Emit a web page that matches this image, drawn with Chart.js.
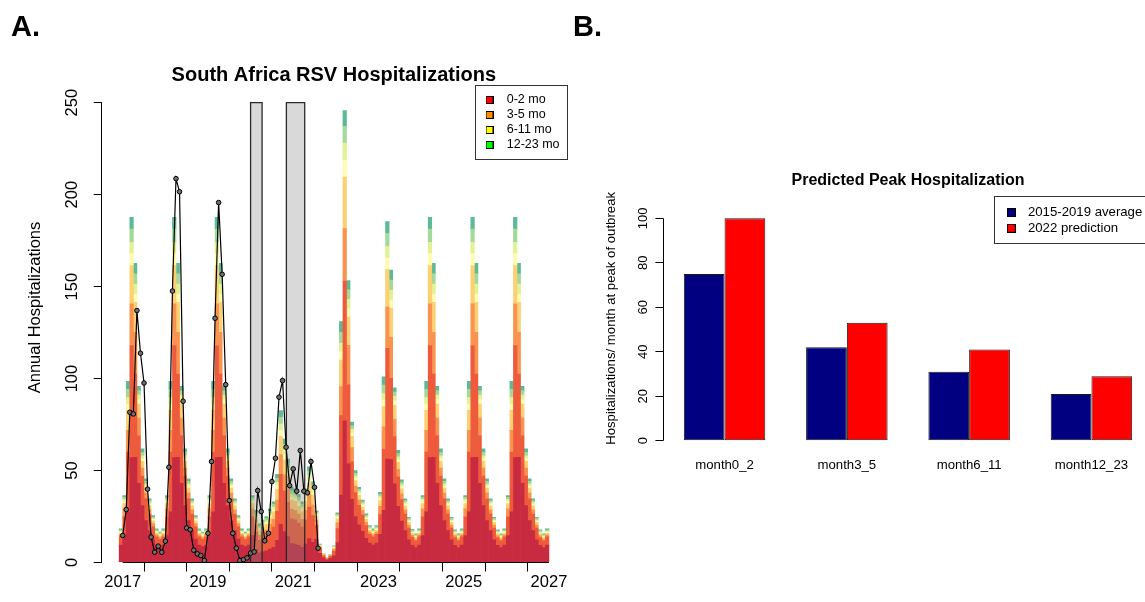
<!DOCTYPE html>
<html>
<head>
<meta charset="utf-8">
<script src="https://cdn.jsdelivr.net/npm/chart.js@4.4.1/dist/chart.umd.min.js"></script>
<style>
html,body{margin:0;padding:0;width:1145px;height:602px;overflow:hidden;background:#fff;}
#wa{position:absolute;left:0;top:0;width:580px;height:602px;}
#wb{position:absolute;left:580px;top:0;width:600px;height:602px;}
.tag{position:absolute;z-index:5;font:bold 29px "Liberation Sans",Arial,Helvetica,sans-serif;line-height:29px;color:#000;}
</style>
</head>
<body>
<div id="wa"><canvas id="ca"></canvas></div>
<div id="wb"><canvas id="cb"></canvas></div>
<div class="tag" style="left:11px;top:12px">A.</div>
<div class="tag" style="left:573px;top:12px">B.</div>
<script>
// ---------------- Panel A data ----------------
// modelled monthly hospitalizations, Dec 2016 .. Dec 2026 (121 months), stacked age bands
const firstModelYear = 2016, firstModelMonth = 12;
const age0to2a = [9.5,
  14.6, 27.6, 57.0, 57.2, 43.1, 30.9, 22.8, 17.3, 12.8, 9.5, 8.6, 9.5,
  14.6, 27.6, 57.0, 57.2, 43.1, 30.9, 22.8, 17.3, 12.8, 9.5, 8.6, 9.5,
  14.6, 27.6, 57.0, 57.2, 43.1, 30.9, 22.8, 17.3, 12.8, 9.5, 8.6, 9.5,
  14.6, 7.1, 5.3, 5.8, 6.3, 7.3, 8.3, 12.0, 20.7, 16.8, 14.1, 10.3,
  10.0, 9.3, 8.3, 10.0, 13.0, 11.0, 12.6, 5.0, 2.5, 1.3, 2.3, 3.6,
  10.8, 36.7, 77.0, 53.7, 34.3, 25.0, 20.5, 17.0, 13.2, 10.5, 9.5, 10.5,
  15.3, 28.3, 56.3, 55.9, 42.8, 30.5, 22.5, 17.3, 12.3, 9.4, 8.1, 9.5,
  14.6, 27.6, 57.0, 57.2, 43.1, 30.9, 22.8, 17.3, 12.3, 9.3, 8.1, 9.5,
  14.6, 27.6, 57.0, 57.2, 43.1, 30.9, 22.8, 17.3, 12.3, 9.3, 8.1, 9.5,
  14.6, 27.6, 57.0, 57.2, 43.1, 30.9, 22.8, 17.3, 12.3, 9.3, 8.1, 9.5];
const age0to2b = [4.4,
  10.2, 32.5, 61.0, 45.3, 25.8, 16.1, 11.8, 9.0, 6.6, 4.4, 4.0, 4.4,
  10.2, 32.5, 61.0, 45.3, 25.8, 16.1, 11.8, 9.0, 6.6, 4.4, 4.0, 4.4,
  10.2, 32.5, 61.0, 45.3, 25.8, 16.1, 11.8, 9.0, 6.6, 4.4, 4.0, 4.4,
  10.2, 9.3, 6.9, 7.6, 8.2, 9.6, 10.9, 15.8, 27.3, 22.2, 18.6, 13.5,
  13.2, 12.2, 10.9, 13.2, 17.2, 14.5, 7.6, 2.6, 1.3, 0.6, 1.1, 2.5,
  7.6, 43.2, 76.0, 42.9, 20.6, 13.0, 10.6, 8.8, 6.9, 4.8, 4.4, 4.8,
  10.7, 33.3, 60.2, 44.3, 25.6, 15.9, 11.7, 9.0, 6.4, 4.3, 3.7, 4.4,
  10.2, 32.5, 61.0, 45.3, 25.8, 16.1, 11.8, 9.0, 6.4, 4.3, 3.7, 4.4,
  10.2, 32.5, 61.0, 45.3, 25.8, 16.1, 11.8, 9.0, 6.4, 4.3, 3.7, 4.4,
  10.2, 32.5, 61.0, 45.3, 25.8, 16.1, 11.8, 9.0, 6.4, 4.3, 3.7, 4.4];
const age3to5a = [1.1,
  4.4, 11.8, 22.7, 22.7, 9.6, 4.3, 3.2, 2.4, 1.8, 1.1, 1.0, 1.1,
  4.4, 11.8, 22.7, 22.7, 9.6, 4.3, 3.2, 2.4, 1.8, 1.1, 1.0, 1.1,
  4.4, 11.8, 22.7, 22.7, 9.6, 4.3, 3.2, 2.4, 1.8, 1.1, 1.0, 1.1,
  4.4, 3.7, 2.7, 3.0, 3.3, 3.8, 4.3, 6.2, 10.7, 8.7, 7.3, 5.3,
  5.2, 4.8, 4.3, 5.2, 6.8, 5.7, 2.8, 0.7, 0.4, 0.2, 0.3, 1.1,
  3.2, 15.7, 28.5, 21.5, 7.6, 3.5, 2.9, 2.4, 1.8, 1.2, 1.1, 1.2,
  4.6, 12.1, 22.4, 22.2, 9.5, 4.3, 3.2, 2.4, 1.7, 1.1, 0.9, 1.1,
  4.4, 11.8, 22.7, 22.7, 9.6, 4.3, 3.2, 2.4, 1.7, 1.1, 0.9, 1.1,
  4.4, 11.8, 22.7, 22.7, 9.6, 4.3, 3.2, 2.4, 1.7, 1.1, 0.9, 1.1,
  4.4, 11.8, 22.7, 22.7, 9.6, 4.3, 3.2, 2.4, 1.7, 1.1, 0.9, 1.1];
const age3to5b = [0.9,
  2.9, 10.8, 20.8, 16.3, 7.7, 3.7, 2.7, 2.1, 1.5, 0.9, 0.8, 0.9,
  2.9, 10.8, 20.8, 16.3, 7.7, 3.7, 2.7, 2.1, 1.5, 0.9, 0.8, 0.9,
  2.9, 10.8, 20.8, 16.3, 7.7, 3.7, 2.7, 2.1, 1.5, 0.9, 0.8, 0.9,
  2.9, 3.4, 2.5, 2.8, 3.0, 3.5, 4.0, 5.8, 9.9, 8.1, 6.8, 4.9,
  4.8, 4.4, 4.0, 4.8, 6.2, 5.3, 2.2, 0.6, 0.3, 0.1, 0.2, 0.7,
  2.2, 14.4, 28.0, 15.3, 6.1, 3.0, 2.5, 2.0, 1.6, 1.0, 0.9, 1.0,
  3.1, 11.1, 20.5, 15.9, 7.6, 3.7, 2.7, 2.1, 1.5, 0.9, 0.8, 0.9,
  2.9, 10.8, 20.8, 16.3, 7.7, 3.7, 2.7, 2.1, 1.5, 0.9, 0.8, 0.9,
  2.9, 10.8, 20.8, 16.3, 7.7, 3.7, 2.7, 2.1, 1.5, 0.9, 0.8, 0.9,
  2.9, 10.8, 20.8, 16.3, 7.7, 3.7, 2.7, 2.1, 1.5, 0.9, 0.8, 0.9];
const age6to11a = [0.5,
  1.1, 3.5, 6.4, 4.5, 2.4, 1.5, 1.1, 0.9, 0.6, 0.5, 0.5, 0.5,
  1.1, 3.5, 6.4, 4.5, 2.4, 1.5, 1.1, 0.9, 0.6, 0.5, 0.5, 0.5,
  1.1, 3.5, 6.4, 4.5, 2.4, 1.5, 1.1, 0.9, 0.6, 0.5, 0.5, 0.5,
  1.1, 1.1, 0.8, 0.9, 1.0, 1.2, 1.3, 1.9, 3.3, 2.7, 2.3, 1.6,
  1.6, 1.5, 1.3, 1.6, 2.1, 1.8, 0.7, 0.3, 0.1, 0.1, 0.1, 0.3,
  0.8, 4.6, 9.3, 4.6, 1.9, 1.2, 1.0, 0.9, 0.7, 0.6, 0.5, 0.6,
  1.1, 3.5, 6.3, 4.4, 2.4, 1.5, 1.1, 0.9, 0.6, 0.5, 0.5, 0.5,
  1.1, 3.5, 6.4, 4.5, 2.4, 1.5, 1.1, 0.9, 0.6, 0.5, 0.5, 0.5,
  1.1, 3.5, 6.4, 4.5, 2.4, 1.5, 1.1, 0.9, 0.6, 0.5, 0.5, 0.5,
  1.1, 3.5, 6.4, 4.5, 2.4, 1.5, 1.1, 0.9, 0.6, 0.5, 0.5, 0.5];
const age6to11b = [0.5,
  1.1, 3.5, 6.2, 5.4, 2.4, 1.5, 1.1, 0.9, 0.6, 0.5, 0.5, 0.5,
  1.1, 3.5, 6.2, 5.4, 2.4, 1.5, 1.1, 0.9, 0.6, 0.5, 0.5, 0.5,
  1.1, 3.5, 6.2, 5.4, 2.4, 1.5, 1.1, 0.9, 0.6, 0.5, 0.5, 0.5,
  1.1, 1.1, 0.8, 0.9, 1.0, 1.2, 1.3, 1.9, 3.3, 2.7, 2.3, 1.6,
  1.6, 1.5, 1.3, 1.6, 2.1, 1.8, 0.7, 0.2, 0.1, 0.1, 0.1, 0.3,
  0.8, 4.6, 9.3, 5.1, 1.9, 1.3, 1.0, 0.9, 0.6, 0.6, 0.5, 0.6,
  1.1, 3.5, 6.1, 5.3, 2.4, 1.5, 1.1, 0.9, 0.6, 0.5, 0.5, 0.5,
  1.1, 3.5, 6.2, 5.4, 2.4, 1.5, 1.1, 0.9, 0.6, 0.5, 0.5, 0.5,
  1.1, 3.5, 6.2, 5.4, 2.4, 1.5, 1.1, 0.9, 0.6, 0.5, 0.5, 0.5,
  1.1, 3.5, 6.2, 5.4, 2.4, 1.5, 1.1, 0.9, 0.6, 0.5, 0.5, 0.5];
const age12to23a = [0.7,
  1.1, 4.4, 7.2, 5.6, 2.4, 1.9, 1.4, 1.0, 0.8, 0.7, 0.6, 0.7,
  1.1, 4.4, 7.2, 5.6, 2.4, 1.9, 1.4, 1.0, 0.8, 0.7, 0.6, 0.7,
  1.1, 4.4, 7.2, 5.6, 2.4, 1.9, 1.4, 1.0, 0.8, 0.7, 0.6, 0.7,
  1.1, 1.3, 1.0, 1.0, 1.1, 1.2, 1.5, 2.2, 3.7, 3.0, 2.5, 1.9,
  1.8, 1.7, 1.5, 1.8, 2.3, 2.0, 0.7, 0.3, 0.2, 0.05, 0.2, 0.3,
  0.8, 5.9, 9.0, 5.2, 1.9, 1.5, 1.2, 1.0, 0.8, 0.7, 0.7, 0.7,
  1.2, 4.6, 7.1, 5.5, 2.4, 1.8, 1.4, 1.0, 0.8, 0.7, 0.6, 0.7,
  1.1, 4.4, 7.2, 5.6, 2.4, 1.9, 1.4, 1.0, 0.8, 0.6, 0.6, 0.7,
  1.1, 4.4, 7.2, 5.6, 2.4, 1.9, 1.4, 1.0, 0.8, 0.6, 0.6, 0.7,
  1.1, 4.4, 7.2, 5.6, 2.4, 1.9, 1.4, 1.0, 0.8, 0.6, 0.6, 0.7];
const age12to23b = [0.7,
  1.0, 4.4, 6.4, 5.7, 2.4, 1.9, 1.4, 1.0, 0.8, 0.7, 0.6, 0.7,
  1.0, 4.4, 6.4, 5.7, 2.4, 1.9, 1.4, 1.0, 0.8, 0.7, 0.6, 0.7,
  1.0, 4.4, 6.4, 5.7, 2.4, 1.9, 1.4, 1.0, 0.8, 0.7, 0.6, 0.7,
  1.0, 1.3, 1.0, 1.0, 1.1, 1.2, 1.4, 2.2, 3.7, 3.0, 2.4, 1.9,
  1.8, 1.6, 1.4, 1.8, 2.3, 1.9, 0.7, 0.3, 0.1, 0.05, 0.2, 0.2,
  0.8, 5.9, 8.6, 5.0, 2.0, 1.5, 1.2, 1.0, 0.8, 0.7, 0.7, 0.7,
  1.1, 4.6, 6.4, 5.5, 2.3, 1.8, 1.3, 1.0, 0.7, 0.6, 0.5, 0.7,
  1.0, 4.4, 6.4, 5.7, 2.4, 1.9, 1.4, 1.0, 0.7, 0.6, 0.5, 0.7,
  1.0, 4.4, 6.4, 5.7, 2.4, 1.9, 1.4, 1.0, 0.7, 0.6, 0.5, 0.7,
  1.0, 4.4, 6.4, 5.7, 2.4, 1.9, 1.4, 1.0, 0.7, 0.6, 0.5, 0.7];
const layerNames = ['0-2 mo (a)', '0-2 mo (b)', '3-5 mo (a)', '3-5 mo (b)', '6-11 mo (a)', '6-11 mo (b)', '12-23 mo (a)', '12-23 mo (b)'];
const layerColors = ['#C82A40', '#EE5B3C', '#F8944F', '#FDD074', '#FFFBB0', '#E2F293', '#A3D99B', '#5CBA95'];

// observed monthly hospitalizations, Jan 2017 .. Aug 2021
const obsStartYear = 2017;
const observedHosp = [
  14.7, 28.8, 81.7, 80.8, 137.0, 113.8, 97.6, 39.9, 13.8, 5.6, 8.9, 5.6,
  11.6, 51.8, 147.6, 208.7, 201.6, 87.7, 18.8, 17.8, 6.7, 4.7, 3.8, 1.1,
  15.9, 54.9, 132.8, 195.7, 156.7, 96.7, 33.7, 15.9, 7.8, 1.1, 1.6, 2.5,
  5.1, 5.8, 39.1, 27.7, 11.8, 15.9, 44.0, 56.7, 89.9, 98.9, 62.7, 41.8,
  50.9, 38.8, 60.9, 38.8, 37.9, 54.9, 40.9, 7.8];

// shaded periods (decimal years) and their height
const shadedPeriods = [[2020.0, 2020.27], [2020.84, 2021.27]];
const shadeTop = 250;

const yearTicks = [2017, 2018, 2019, 2020, 2021, 2022, 2023, 2024, 2025, 2026, 2027];
const yearTickLabels = ['2017', '', '2019', '', '2021', '', '2023', '', '2025', '', '2027'];
const hospTicks = [0, 50, 100, 150, 200, 250];
const legendAgeLabels = ['0-2 mo', '3-5 mo', '6-11 mo', '12-23 mo'];
const legendAgeColors = ['#FF0000', '#FF8C00', '#FFFF00', '#00FF00'];

// ---------------- Panel B data ----------------
const peakGroups = ['month0_2', 'month3_5', 'month6_11', 'month12_23'];
const peakAvg2015_2019 = [75, 42, 31, 21];
const peakPred2022 = [100, 53, 41, 29];
const peakTicks = [0, 20, 40, 60, 80, 100];

// ---------------- helpers ----------------
Chart.defaults.font.family = '"Liberation Sans", Arial, Helvetica, sans-serif';
Chart.defaults.color = '#000';

function swatch(color, size) {
  const c = document.createElement('canvas');
  c.width = size; c.height = size;
  const g = c.getContext('2d');
  g.fillStyle = color; g.fillRect(0, 0, size, size);
  g.strokeStyle = '#000'; g.lineWidth = 1; g.strokeRect(0.5, 0.5, size - 1, size - 1);
  return c;
}
function crisp(chart, px) {
  const d = chart.currentDevicePixelRatio || 1;
  return Math.round((px - 0.5) * d) / d + 0.5;
}
const framePlugin = {
  id: 'frame',
  afterLayout(chart, args, o) {
    const lg = chart.legend;
    if (lg && o.legendLeft != null) {
      const w = lg.width, h = lg.height;
      lg.left = o.legendLeft; lg.top = o.legendTop;
      lg.right = lg.left + w; lg.bottom = lg.top + h;
    }
  },
  afterDraw(chart, args, o) {
    const ctx = chart.ctx, ca = chart.chartArea;
    const xs = chart.scales.x, ys = chart.scales.y;
    ctx.save();
    ctx.strokeStyle = '#000'; ctx.lineWidth = 1;
    if (o.xLine) {
      const yy = crisp(chart, ca.bottom);
      ctx.beginPath();
      ctx.moveTo(xs.getPixelForValue(o.xLine[0]), yy);
      ctx.lineTo(xs.getPixelForValue(o.xLine[1]), yy);
      ctx.stroke();
    }
    if (o.yLine) {
      const xx = crisp(chart, ca.left);
      ctx.beginPath();
      ctx.moveTo(xx, ys.getPixelForValue(o.yLine[0]));
      ctx.lineTo(xx, ys.getPixelForValue(o.yLine[1]));
      ctx.stroke();
    }
    if (o.box) {
      ctx.strokeStyle = '#333';
      const [x0, y0, x1, y1] = o.box;
      ctx.strokeRect(crisp(chart, x0), crisp(chart, y0), Math.round(x1 - x0), Math.round(y1 - y0));
    }
    ctx.restore();
  }
};

// ---------------- Panel A chart ----------------
const barX = age0to2a.map((_, k) => firstModelYear + (firstModelMonth - 0.5 + k) / 12);
const obsX = observedHosp.map((_, i) => obsStartYear + i / 12);
const layerValues = [age0to2a, age0to2b, age3to5a, age3to5b, age6to11a, age6to11b, age12to23a, age12to23b];

const barSets = layerValues.map((vals, j) => ({
  type: 'bar',
  label: layerNames[j],
  data: vals.map((v, k) => ({x: barX[k], y: v})),
  backgroundColor: layerColors[j],
  borderWidth: 0,
  stack: 'ages',
  order: 3,
  barPercentage: 1,
  categoryPercentage: 1
}));
const shadeSets = shadedPeriods.map((p, i) => ({
  type: 'line',
  label: 'shaded period ' + (i + 1),
  data: [{x: p[0], y: 0}, {x: p[0], y: shadeTop}, {x: p[1], y: shadeTop}, {x: p[1], y: 0}],
  borderColor: '#2a2a2a',
  borderWidth: 1.3,
  backgroundColor: 'rgba(128,128,128,0.3)',
  fill: 'origin',
  pointRadius: 0,
  tension: 0,
  stack: 'shade' + i,
  order: 2
}));
const obsSet = {
  type: 'line',
  label: 'Observed',
  data: observedHosp.map((v, i) => ({x: obsX[i], y: v})),
  borderColor: '#000',
  borderWidth: 1.2,
  pointRadius: 2.3,
  pointBackgroundColor: '#707070',
  pointBorderColor: '#000',
  pointBorderWidth: 1,
  tension: 0,
  fill: false,
  stack: 'obs',
  order: 1
};

new Chart(document.getElementById('ca'), {
  type: 'bar',
  data: {datasets: [...barSets, ...shadeSets, obsSet]},
  plugins: [framePlugin],
  options: {
    responsive: true,
    maintainAspectRatio: false,
    animation: false,
    layout: {padding: {left: 0, right: 14, top: 0, bottom: 0}},
    scales: {
      x: {
        type: 'linear', min: 2016.507, max: 2027.4, offset: false,
        afterBuildTicks: s => { s.ticks = yearTicks.map(v => ({value: v})); },
        ticks: {autoSkip: false, maxRotation: 0, minRotation: 0, padding: 1, font: {size: 16.5}, color: '#000',
                callback: (v, i) => yearTickLabels[i]},
        grid: {display: true, drawOnChartArea: false, drawTicks: true, tickLength: 9, color: '#000', lineWidth: 1},
        border: {display: false},
        afterFit: s => { s.height = 39.5; }
      },
      y: {
        type: 'linear', min: 0, max: 277.3, stacked: true,
        afterBuildTicks: s => { s.ticks = hospTicks.map(v => ({value: v})); },
        ticks: {minRotation: 90, maxRotation: 90, crossAlign: 'center', padding: 7.8, font: {size: 16.5}, color: '#000',
                callback: v => String(v)},
        grid: {display: true, drawOnChartArea: false, drawTicks: true, tickLength: 8, color: '#000', lineWidth: 1},
        border: {display: false},
        title: {display: true, text: 'Annual Hospitalizations', font: {size: 16.5}, color: '#000', padding: {top: 25.1, bottom: 0}},
        afterFit: s => { s.width = 101.7; }
      }
    },
    plugins: {
      legend: {
        position: 'chartArea', align: 'start',
        labels: {
          usePointStyle: true, pointStyleWidth: 22, boxHeight: 8, padding: 2.5,
          font: {size: 12.5}, color: '#000',
          generateLabels: () => legendAgeLabels.map((t, i) => ({
            text: t, fillStyle: legendAgeColors[i], strokeStyle: '#000', lineWidth: 1,
            pointStyle: swatch(legendAgeColors[i], 8), hidden: false, datasetIndex: i
          }))
        }
      },
      title: {display: true, text: 'South Africa RSV Hospitalizations', fullSize: false,
              font: {size: 20, weight: 'bold'}, color: '#000', padding: {top: 63.5, bottom: -35}},
      tooltip: {enabled: false},
      frame: {legendLeft: 476, legendTop: 91.25, box: [475, 85, 566.7, 159], xLine: [2017, 2027], yLine: [0, 250]}
    }
  }
});

// ---------------- Panel B chart ----------------
new Chart(document.getElementById('cb'), {
  type: 'bar',
  data: {
    labels: peakGroups,
    datasets: [
      {label: '2015-2019 average', data: peakAvg2015_2019, backgroundColor: '#000080', borderColor: '#1a1a1a',
       borderWidth: 1, borderSkipped: false, categoryPercentage: 0.6664, barPercentage: 1},
      {label: '2022 prediction', data: peakPred2022, backgroundColor: '#FF0000', borderColor: '#1a1a1a',
       borderWidth: 1, borderSkipped: false, categoryPercentage: 0.6664, barPercentage: 1}
    ]
  },
  plugins: [framePlugin],
  options: {
    responsive: true,
    maintainAspectRatio: false,
    animation: false,
    layout: {padding: {left: 0, right: 27.4, top: 0, bottom: 0}},
    scales: {
      x: {
        type: 'category', offset: true,
        grid: {display: false, drawTicks: false},
        border: {display: false},
        ticks: {padding: 16.4, font: {size: 13.2}, color: '#000', maxRotation: 0, autoSkip: false},
        afterFit: s => { s.height = 161.3; }
      },
      y: {
        min: 0, max: 110,
        afterBuildTicks: s => { s.ticks = peakTicks.map(v => ({value: v})); },
        ticks: {minRotation: 90, maxRotation: 90, crossAlign: 'center', padding: 1.5, font: {size: 13}, color: '#000'},
        grid: {display: true, drawOnChartArea: false, drawTicks: true, tickLength: 8, color: '#000', lineWidth: 1},
        border: {display: false},
        title: {display: true, text: 'Hospitalizations/ month at peak of outbreak', font: {size: 13.2}, color: '#000',
                padding: {top: 23.3, bottom: 0}},
        afterFit: s => { s.width = 83.4; }
      }
    },
    plugins: {
      legend: {
        position: 'chartArea', align: 'start',
        labels: {
          usePointStyle: true, pointStyleWidth: 20, boxHeight: 9, padding: 2.4,
          font: {size: 13.2}, color: '#000',
          generateLabels: chart => chart.data.datasets.map((d, i) => ({
            text: d.label, fillStyle: d.backgroundColor, strokeStyle: '#000', lineWidth: 1,
            pointStyle: swatch(d.backgroundColor, 9), hidden: false, datasetIndex: i
          }))
        }
      },
      title: {display: true, text: 'Predicted Peak Hospitalization', fullSize: false,
              font: {size: 16, weight: 'bold'}, color: '#000', padding: {top: 171.4, bottom: 5.5}},
      tooltip: {enabled: false},
      frame: {legendLeft: 418.9, legendTop: 203.7, box: [414.6, 196.7, 640, 244], yLine: [0, 100]}
    }
  }
});
</script>
</body>
</html>
